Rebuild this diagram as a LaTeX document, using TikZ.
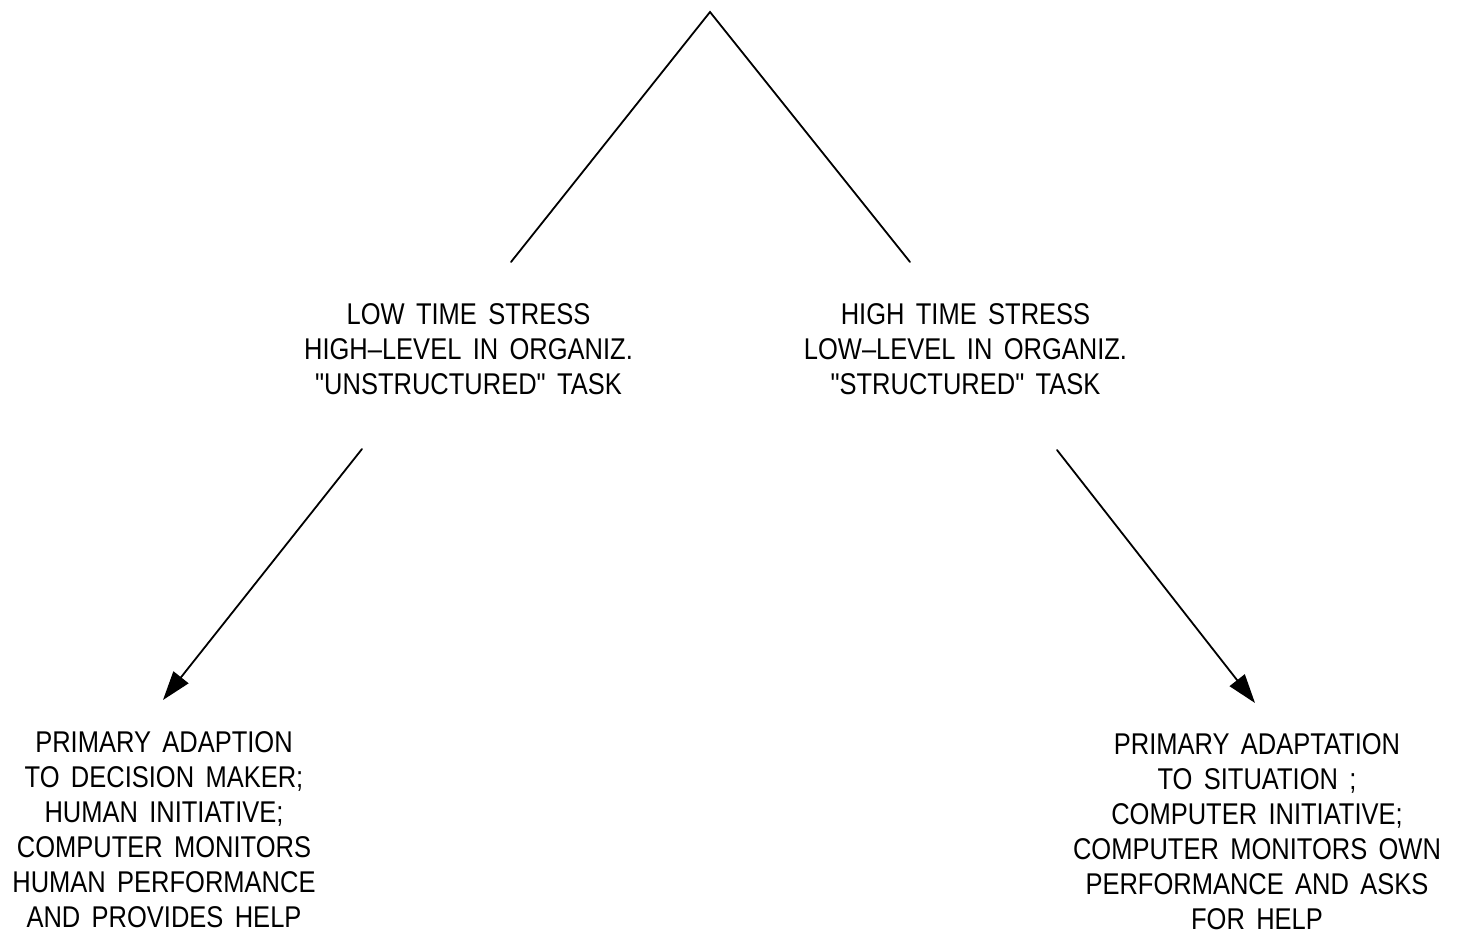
\documentclass[tikz,border=0pt]{standalone}
\usepackage{fontspec}
\setmainfont{Liberation Sans}[FakeStretch=0.85, WordSpace=1.6, Ligatures=TeXOff]
\usetikzlibrary{arrows.meta}
\tikzset{
  lbl/.style={align=center, inner sep=0pt, font=\fontsize{30}{35}\selectfont},
  edge/.style={line width=1.8pt, line cap=round},
  arr/.style={edge, -{Triangle[length=29pt,width=19pt]}}
}
\begin{document}
\begin{tikzpicture}[x=1pt,y=-1pt]
\useasboundingbox (0,0) rectangle (1460,933);
\coordinate (apex) at (710,12);
\coordinate (lend) at (511,262);
\coordinate (rend) at (910,262);
\coordinate (la) at (362,449);
\coordinate (lb) at (163,700);
\coordinate (ra) at (1057,450);
\coordinate (rb) at (1255,703);
\node[lbl] (midL) at (468.5,349) {LOW TIME STRESS\\HIGH–LEVEL IN ORGANIZ.\\"UNSTRUCTURED" TASK};
\node[lbl] (midR) at (965.5,349) {HIGH TIME STRESS\\LOW–LEVEL IN ORGANIZ.\\"STRUCTURED" TASK};
\node[lbl] (botL) at (164,829.5) {PRIMARY ADAPTION\\TO DECISION MAKER;\\HUMAN INITIATIVE;\\COMPUTER MONITORS\\HUMAN PERFORMANCE\\AND PROVIDES HELP};
\node[lbl] (botR) at (1257,831.5) {PRIMARY ADAPTATION\\TO SITUATION ;\\COMPUTER INITIATIVE;\\COMPUTER MONITORS OWN\\PERFORMANCE AND ASKS\\FOR HELP};
\draw[edge] (lend) -- (apex) -- (rend);
\draw[arr] (la) -- (lb);
\draw[arr] (ra) -- (rb);
\end{tikzpicture}
\end{document}
